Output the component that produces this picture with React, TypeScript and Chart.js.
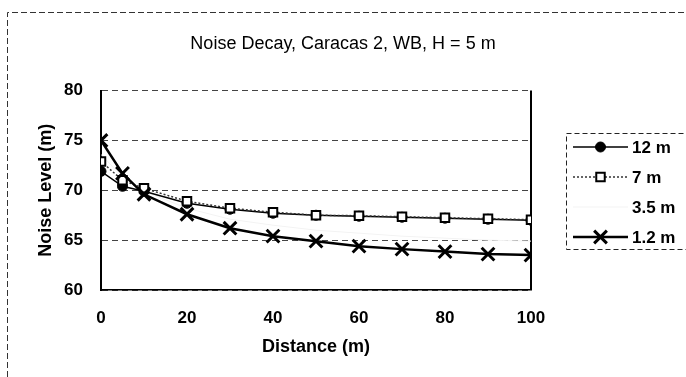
import React, { useEffect, useRef } from "react";
import { Chart, registerables } from "chart.js";

Chart.register(...registerables);

const chartTitle = "Noise Decay, Caracas 2, WB, H = 5 m";
const xTitle = "Distance (m)";
const yTitle = "Noise Level (m)";
const distances = [0, 5, 10, 20, 30, 40, 50, 60, 70, 80, 90, 100];
const seriesLabels = ["12 m", "7 m", "3.5 m", "1.2 m"];
const level12m = [71.9, 70.4, 69.9, 68.7, 68.1, 67.7, 67.5, 67.4, 67.3, 67.2, 67.1, 67.0];
const level7m = [72.9, 71.0, 70.2, 68.9, 68.2, 67.8, 67.5, 67.45, 67.35, 67.25, 67.15, 67.05];
const level3_5m = [73.6, 71.3, 69.9, 68.2, 67.1, 66.5, 66.0, 65.7, 65.4, 65.2, 65.0, 64.9];
const level1_2m = [75.0, 71.7, 69.6, 67.6, 66.2, 65.4, 64.9, 64.4, 64.1, 63.85, 63.6, 63.5];
const yMin = 60;
const yMax = 80;
const yStep = 5;
const xMin = 0;
const xMax = 100;
const xStep = 20;

const FONT = "'Liberation Sans', Arial, sans-serif";

function toPoints(vals: number[]) {
  return distances.map((d, i) => ({ x: d, y: vals[i] }));
}

function drawMarker(ctx: CanvasRenderingContext2D, style: string, x: number, y: number, r: number, fill: string, stroke: string, bw: number) {
  ctx.save();
  ctx.setLineDash([]);
  ctx.fillStyle = fill;
  ctx.strokeStyle = stroke;
  ctx.lineWidth = bw;
  ctx.beginPath();
  if (style === "circle") {
    ctx.arc(x, y, r, 0, Math.PI * 2);
    ctx.fill();
    if (bw) ctx.stroke();
  } else if (style === "rect") {
    const s = r * Math.SQRT1_2;
    ctx.rect(x - s, y - s, 2 * s, 2 * s);
    ctx.fill();
    if (bw) ctx.stroke();
  } else if (style === "crossRot") {
    const o = Math.cos(Math.PI / 4) * r;
    ctx.moveTo(x - o, y - o);
    ctx.lineTo(x + o, y + o);
    ctx.moveTo(x + o, y - o);
    ctx.lineTo(x - o, y + o);
    ctx.stroke();
  }
  ctx.restore();
}

const framePlugin = {
  id: "frame",
  beforeDraw(chart: any) {
    const ctx = chart.ctx;
    ctx.save();
    ctx.strokeStyle = "#333";
    ctx.lineWidth = 1;
    ctx.setLineDash([6, 3]);
    ctx.beginPath();
    ctx.moveTo(7.5, chart.height);
    ctx.lineTo(7.5, 12.5);
    ctx.lineTo(chart.width, 12.5);
    ctx.stroke();
    ctx.restore();
  },
  beforeDatasetsDraw(chart: any) {
    const { ctx, chartArea } = chart;
    ctx.save();
    ctx.strokeStyle = "#000";
    ctx.lineWidth = 2;
    ctx.beginPath();
    ctx.moveTo(chartArea.right, chartArea.top);
    ctx.lineTo(chartArea.right, chartArea.bottom);
    ctx.stroke();
    ctx.restore();
  },
};

const legendPlugin = {
  id: "customLegend",
  afterDraw(chart: any) {
    const { ctx, chartArea } = chart;
    const left = chartArea.right + 35;
    const top = 133;
    const rowH = 30;
    ctx.save();
    ctx.strokeStyle = "#222";
    ctx.lineWidth = 1;
    ctx.setLineDash([5, 3]);
    ctx.strokeRect(left + 0.5, top + 0.5, 200, 116);
    chart.data.datasets.forEach((ds: any, i: number) => {
      const y = top + 14 + i * rowH;
      const x0 = left + 7;
      const x1 = left + 62;
      ctx.setLineDash(ds.borderDash || []);
      ctx.strokeStyle = ds.borderColor;
      ctx.lineWidth = ds.borderWidth;
      ctx.beginPath();
      ctx.moveTo(x0, y);
      ctx.lineTo(x1, y);
      ctx.stroke();
      if (ds.pointRadius > 0) {
        drawMarker(ctx, ds.pointStyle, (x0 + x1) / 2, y, ds.pointRadius, ds.pointBackgroundColor, ds.pointBorderColor, ds.pointBorderWidth);
      }
      ctx.setLineDash([]);
      ctx.fillStyle = "#000";
      ctx.font = `bold 17px ${FONT}`;
      ctx.textAlign = "left";
      ctx.textBaseline = "middle";
      ctx.fillText(ds.label, x1 + 4, y + 1);
    });
    ctx.restore();
  },
};

export default function App() {
  const ref = useRef<HTMLCanvasElement | null>(null);

  useEffect(() => {
    if (!ref.current) return;
    const chart = new Chart(ref.current, {
      type: "line",
      data: {
        datasets: [
          {
            label: seriesLabels[0],
            data: toPoints(level12m),
            borderColor: "#000",
            borderWidth: 1.5,
            pointStyle: "circle",
            pointRadius: 5,
            pointBackgroundColor: "#000",
            pointBorderColor: "#000",
            pointBorderWidth: 1,
            tension: 0,
            order: 2,
          },
          {
            label: seriesLabels[1],
            data: toPoints(level7m),
            borderColor: "#333",
            borderWidth: 1.5,
            borderDash: [2, 2],
            pointStyle: "rect",
            pointRadius: 6,
            pointBackgroundColor: "#fff",
            pointBorderColor: "#000",
            pointBorderWidth: 2,
            tension: 0,
            order: 1,
          },
          {
            label: seriesLabels[2],
            data: toPoints(level3_5m),
            borderColor: "#f3f3f3",
            borderWidth: 1,
            pointStyle: "circle",
            pointRadius: 0,
            pointBackgroundColor: "#f3f3f3",
            pointBorderColor: "#f3f3f3",
            pointBorderWidth: 0,
            tension: 0,
            order: 3,
          },
          {
            label: seriesLabels[3],
            data: toPoints(level1_2m),
            borderColor: "#000",
            borderWidth: 2.5,
            pointStyle: "crossRot",
            pointRadius: 9,
            pointBackgroundColor: "#000",
            pointBorderColor: "#000",
            pointBorderWidth: 3,
            tension: 0,
            order: 0,
          },
        ],
      },
      options: {
        responsive: false,
        animation: false,
        layout: { padding: { left: 0, right: 0, top: 0, bottom: 0 } },
        plugins: {
          legend: { display: false },
          tooltip: { enabled: false },
          title: {
            display: true,
            text: chartTitle,
            color: "#000",
            font: { family: FONT, size: 18, weight: "normal" },
            padding: { top: 33, bottom: 36 },
          },
        },
        scales: {
          x: {
            type: "linear",
            min: xMin,
            max: xMax,
            afterFit: (s: any) => {
              s.height = 87;
            },
            ticks: {
              stepSize: xStep,
              padding: 18,
              color: "#000",
              font: { family: FONT, size: 17, weight: "bold" },
            },
            grid: { display: false, drawTicks: false },
            border: { display: true, color: "#000", width: 1.5 },
            title: {
              display: true,
              text: xTitle,
              color: "#000",
              font: { family: FONT, size: 18, weight: "bold" },
              padding: { top: 0, bottom: 19 },
            },
          },
          y: {
            type: "linear",
            min: yMin,
            max: yMax,
            afterFit: (s: any) => {
              s.width = 101;
            },
            ticks: {
              stepSize: yStep,
              padding: 18,
              color: "#000",
              font: { family: FONT, size: 17, weight: "bold" },
            },
            grid: { display: true, drawTicks: false, color: "#444", lineWidth: 1 },
            border: { display: true, color: "#000", width: 2, dash: [6, 4] },
            title: {
              display: true,
              text: yTitle,
              color: "#000",
              font: { family: FONT, size: 18, weight: "bold" },
              padding: { top: 35, bottom: 0 },
            },
          },
          legendSpace: {
            type: "linear",
            position: "right",
            min: yMin,
            max: yMax,
            afterFit: (s: any) => {
              s.width = 155;
            },
            ticks: { display: false },
            grid: { display: false, drawTicks: false },
            border: { display: false },
          },
        },
      },
      plugins: [framePlugin, legendPlugin],
    } as any);
    return () => chart.destroy();
  }, []);

  return (
    <div style={{ position: "absolute", left: 0, top: 0, width: 686, height: 377, background: "#fff" }}>
      <canvas ref={ref} width={686} height={377} style={{ display: "block" }} />
    </div>
  );
}
